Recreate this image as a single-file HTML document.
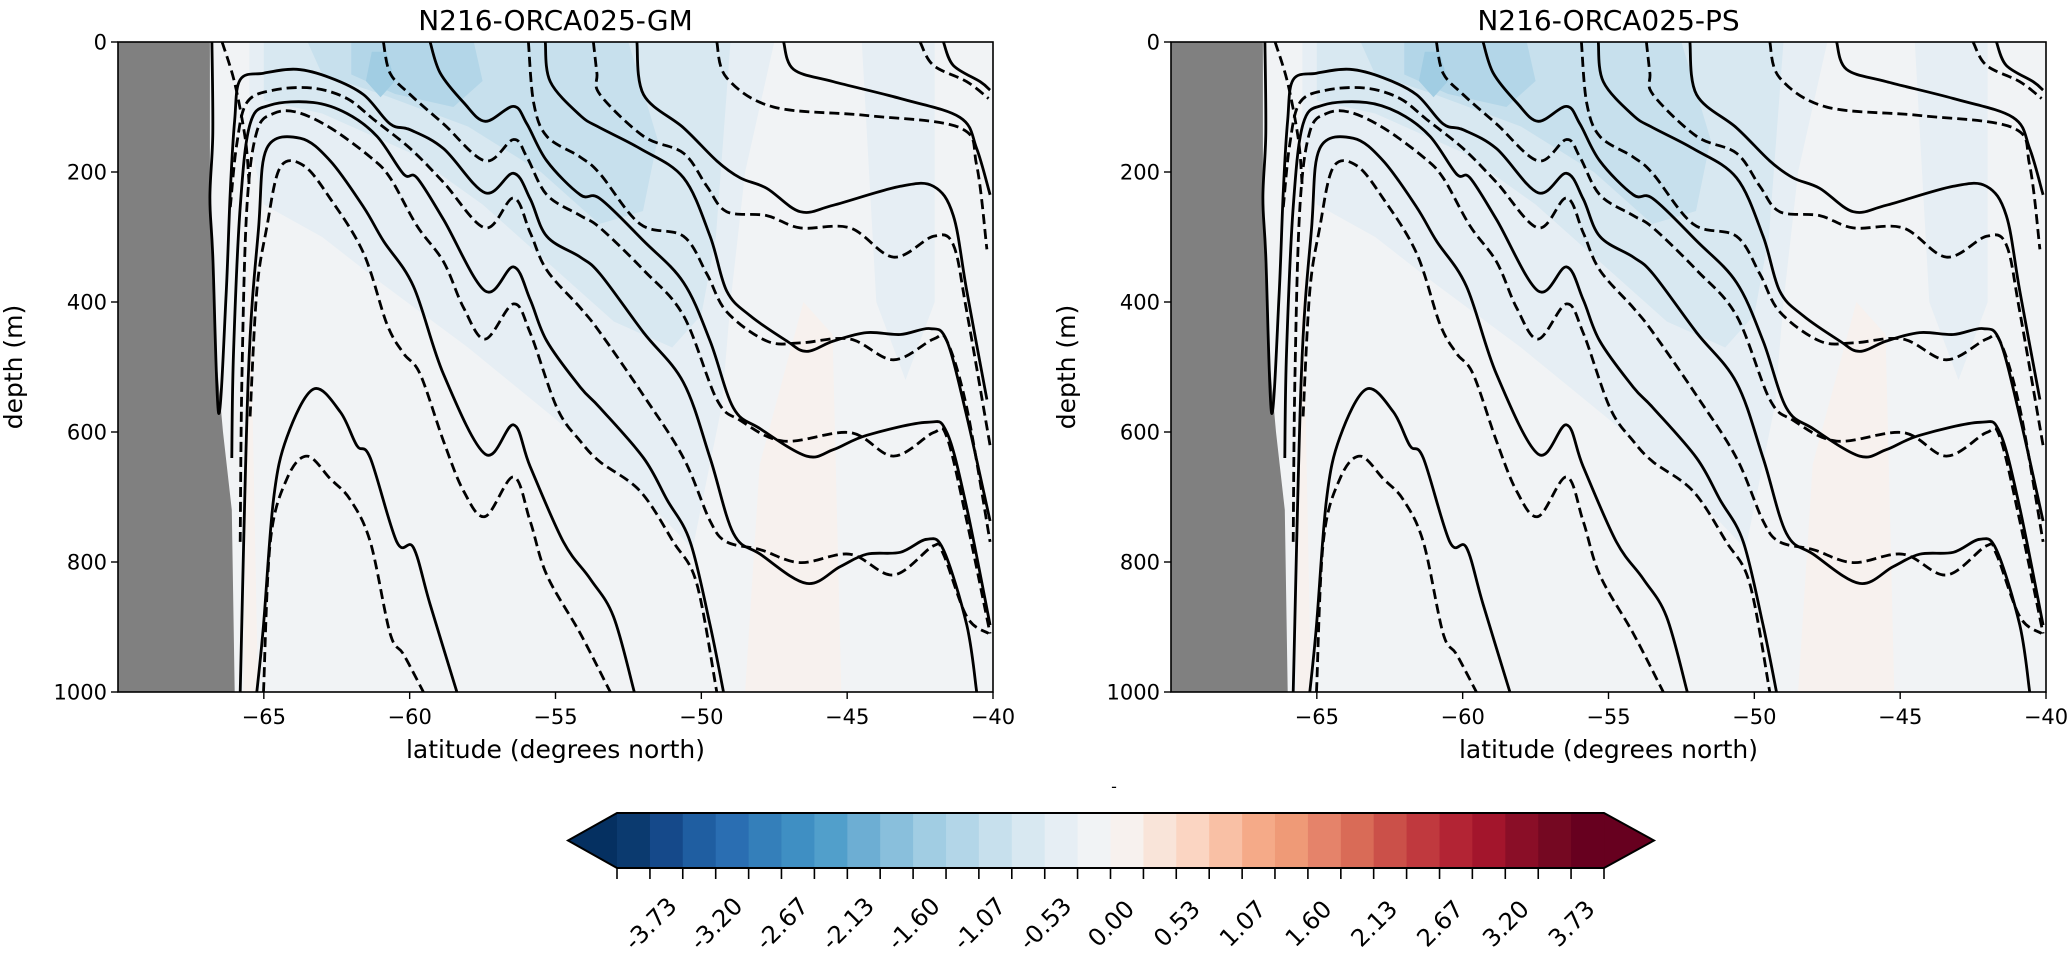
<!DOCTYPE html>
<html><head><meta charset="utf-8"><style>
html,body{margin:0;padding:0;background:#fff;}
svg{display:block;font-family:"DejaVu Sans","Liberation Sans",sans-serif;}
</style></head><body>
<svg id="fig" width="2067" height="957" viewBox="0 0 2067 957" xmlns="http://www.w3.org/2000/svg"></svg>
<script>
// ---------- data ----------
const panelTitles = ["N216-ORCA025-GM", "N216-ORCA025-PS"];
const xTicks = [-65, -60, -55, -50, -45, -40];
const yTicks = [0, 200, 400, 600, 800, 1000];
const cbarBounds = [-4.0,-3.733,-3.467,-3.2,-2.933,-2.667,-2.4,-2.133,-1.867,-1.6,-1.333,-1.067,-0.8,-0.533,-0.267,0,0.267,0.533,0.8,1.067,1.333,1.6,1.867,2.133,2.4,2.667,2.933,3.2,3.467,3.733,4.0];
const cbarLabels = ["-3.73","-3.20","-2.67","-2.13","-1.60","-1.07","-0.53","0.00","0.53","1.07","1.60","2.13","2.67","3.20","3.73"];
const cbarColors = ["#0b3a6f","#15498a","#1f5ea1","#2a6eb2","#347fba","#3f8fc3","#519fcb","#6daed3","#89bfdc","#a1cde3","#b3d6e8","#c7e0ed","#d8e8f1","#e6eef4","#f1f3f5","#f7f1ee","#f9e4d9","#fbd5c2","#f9c0a5","#f5aa88","#ef9a77","#e5836a","#d96b57","#cb5049","#c0393e","#b32434","#a3152c","#8a0e27","#750822","#67001f"];
const landPoly = [[-70,0],[-66.85,0],[-66.85,250],[-66.7,450],[-66.4,600],[-66.1,720],[-66.0,1000],[-70,1000]];
const shadeValues = [-0.3, -0.55, -0.85, -1.15, -1.45, -0.4, 0.1, 0.1];
const shadePolys = [
 [[-65.5,0],[-47.5,0],[-48.5,200],[-49,400],[-49.3,560],[-50.3,780],[-52,700],[-55,580],[-58,470],[-61,370],[-63,300],[-65,250],[-65.5,150]],
 [[-65,0],[-49,0],[-49.5,300],[-50,420],[-51,470],[-53,430],[-55,350],[-57.5,250],[-60,170],[-63,110],[-65,90]],
 [[-63.5,0],[-52.5,0],[-51.5,150],[-52,260],[-53.5,280],[-55.5,200],[-58,130],[-61,80],[-63,50]],
 [[-62,0],[-57.8,0],[-57.5,60],[-58.5,100],[-60.5,80],[-62,50]],
 [[-61.3,15],[-60.8,15],[-60.5,60],[-61,85],[-61.5,60]],
 [[-44.5,0],[-42,0],[-42,400],[-43,520],[-44,400]],
 [[-48.5,1000],[-48,650],[-46.5,400],[-45.5,450],[-45.2,1000]],
 [[-65.7,1000],[-65.5,300],[-65.2,1000]]
];
const solidLines = [
 [[-59.30,0],[-58.95,48],[-58.15,93],[-57.41,122],[-56.44,99],[-55.98,126],[-55.30,183],[-54.15,235],[-53.47,241],[-51.98,306],[-50.61,370],[-49.70,460],[-48.90,563],[-47.98,595],[-46.39,637],[-45.47,627],[-44.33,605],[-42.27,585],[-41.58,601],[-40.90,717],[-40.10,897]],
 [[-66.78,0],[-66.75,140],[-66.85,240],[-66.75,330],[-66.55,571],[-66.3,395],[-66.15,230],[-66.0,120],[-65.81,58],[-65.01,48],[-63.87,42],[-62.72,55],[-61.58,81],[-60.67,126],[-59.98,135],[-58.84,164],[-57.41,232],[-56.44,202],[-55.87,241],[-55.30,299],[-54.15,331],[-53.47,357],[-51.98,447],[-50.61,524],[-49.70,640],[-48.90,756],[-47.98,788],[-46.39,833],[-45.24,807],[-44.33,788],[-43.18,785],[-42.27,765],[-41.70,781],[-40.90,897],[-40.56,1000]],
 [[-66.10,640],[-66.04,479],[-65.81,254],[-65.47,126],[-64.78,97],[-63.30,93],[-62.15,110],[-61.12,145],[-60.21,203],[-59.75,209],[-58.84,273],[-57.41,383],[-56.44,346],[-55.87,396],[-55.30,460],[-54.15,531],[-53.47,563],[-51.98,640],[-51.18,704],[-50.38,769],[-49.70,897],[-49.24,1000]],
 [[-65.81,1000],[-65.53,511],[-65.18,286],[-64.90,164],[-63.75,148],[-62.72,183],[-61.58,254],[-60.90,306],[-59.87,376],[-58.84,511],[-57.41,634],[-56.44,589],[-55.87,653],[-54.73,769],[-53.81,826],[-53.01,884],[-52.30,1000]],
 [[-65.24,1000],[-65.01,897],[-64.67,704],[-64.21,608],[-63.30,534],[-62.38,569],[-61.81,621],[-61.35,640],[-60.44,769],[-59.87,778],[-59.30,865],[-58.38,1000]],
 [[-55.35,0],[-55.18,61],[-54.15,113],[-53.47,132],[-52.10,164],[-50.61,209],[-49.70,299],[-49.13,383],[-48.33,421],[-47.07,460],[-46.39,476],[-45.47,460],[-44.33,447],[-43.18,450],[-42.16,441],[-41.58,460],[-40.90,576],[-40.10,737]],
 [[-52.21,0],[-51.98,81],[-50.61,132],[-49.47,183],[-48.67,209],[-47.76,225],[-46.61,261],[-45.47,251],[-43.18,222],[-42.04,222],[-41.36,267],[-40.90,383],[-40.21,550]],
 [[-47.18,0],[-46.84,42],[-45.47,61],[-43.18,87],[-41.13,116],[-40.56,164],[-40.10,235]],
 [[-41.70,0],[-41.36,36],[-40.44,61],[-40.10,74]]
];
const dashedLines = [
 [[-60.90,0],[-60.67,48],[-59.98,81],[-58.84,126],[-57.41,183],[-56.44,150],[-55.98,177],[-55.30,235],[-54.15,267],[-53.47,286],[-51.98,351],[-50.61,421],[-49.47,550],[-48.67,582],[-47.18,614],[-44.90,601],[-43.41,637],[-42.04,601],[-41.58,608],[-40.90,737],[-40.10,910]],
 [[-66.15,254],[-65.93,158],[-65.58,93],[-64.67,74],[-63.30,71],[-62.15,87],[-61.24,119],[-59.98,164],[-58.84,216],[-57.41,286],[-56.44,240],[-55.87,293],[-55.30,351],[-54.15,409],[-53.47,447],[-51.98,544],[-50.61,640],[-49.70,737],[-49.13,769],[-47.98,781],[-46.61,801],[-44.90,788],[-43.41,820],[-42.04,775],[-41.70,788],[-40.90,884],[-40.15,910]],
 [[-65.81,769],[-65.75,511],[-65.58,254],[-65.24,138],[-64.67,110],[-63.87,108],[-62.72,132],[-61.35,177],[-60.67,209],[-59.75,283],[-58.84,338],[-58.15,409],[-57.41,457],[-56.44,403],[-55.87,447],[-54.95,563],[-54.15,614],[-53.47,646],[-52.10,691],[-50.96,769],[-50.16,833],[-49.47,1000]],
 [[-65.47,576],[-65.24,383],[-64.90,286],[-64.44,193],[-63.64,190],[-62.72,241],[-61.58,325],[-60.78,434],[-60.21,479],[-59.64,511],[-58.84,614],[-58.15,691],[-57.41,730],[-56.44,669],[-55.87,737],[-55.30,820],[-54.15,910],[-53.12,1000]],
 [[-65.01,1000],[-64.78,769],[-64.21,672],[-63.52,637],[-62.72,672],[-62.04,704],[-61.35,769],[-60.67,910],[-60.21,942],[-59.53,1000]],
 [[-55.93,0],[-55.75,93],[-55.30,145],[-54.15,177],[-53.47,203],[-52.10,280],[-50.61,299],[-49.81,357],[-49.13,415],[-47.76,460],[-46.61,463],[-44.90,457],[-43.41,489],[-42.04,457],[-41.58,460],[-40.90,563],[-40.10,769]],
 [[-53.70,0],[-53.58,48],[-53.47,81],[-51.98,145],[-50.61,171],[-49.81,222],[-49.13,261],[-47.76,267],[-46.61,286],[-44.90,286],[-43.41,331],[-42.04,299],[-41.36,312],[-40.90,415],[-40.10,621]],
 [[-49.47,0],[-49.13,55],[-47.53,100],[-44.33,113],[-41.13,132],[-40.56,190],[-40.21,319]],
 [[-42.5,0],[-42.04,36],[-40.90,61],[-40.15,87]],
 [[-66.43,0],[-66.0,63],[-65.63,151],[-65.5,223]]
];
// ---------- drawing ----------
const NS = "http://www.w3.org/2000/svg";
const svg = document.getElementById("fig");
function mk(tag, attrs, parent){const e=document.createElementNS(NS,tag);for(const k in attrs)e.setAttribute(k,attrs[k]);(parent||svg).appendChild(e);return e;}
const panelLefts = [118, 1171];
const PW = 875, PT = 42, PH = 650;
const xMin=-70, xMax=-40, yMin=0, yMax=1000;
function colorFor(v){for(let i=0;i<cbarColors.length;i++){if(v<cbarBounds[i+1])return cbarColors[i];}return cbarColors[cbarColors.length-1];}
function smoothPath(pts){
  if(pts.length<3) return "M"+pts.map(p=>p.join(",")).join("L");
  let d="M"+pts[0][0].toFixed(1)+","+pts[0][1].toFixed(1);
  for(let i=0;i<pts.length-1;i++){
    const p0=pts[Math.max(0,i-1)],p1=pts[i],p2=pts[i+1],p3=pts[Math.min(pts.length-1,i+2)];
    const c1=[p1[0]+(p2[0]-p0[0])/6,p1[1]+(p2[1]-p0[1])/6];
    const c2=[p2[0]-(p3[0]-p1[0])/6,p2[1]-(p3[1]-p1[1])/6];
    d+="C"+c1[0].toFixed(1)+","+c1[1].toFixed(1)+" "+c2[0].toFixed(1)+","+c2[1].toFixed(1)+" "+p2[0].toFixed(1)+","+p2[1].toFixed(1);
  }
  return d;
}
panelTitles.forEach((title,pi)=>{
  const L = panelLefts[pi];
  const xs = v => L + (v-xMin)/(xMax-xMin)*PW;
  const ys = v => PT + (v-yMin)/(yMax-yMin)*PH;
  const g = mk("g",{});
  
  
  const clipId="clip"+pi;
  const cp=mk("clipPath",{id:clipId},g); mk("rect",{x:L,y:PT,width:PW,height:PH},cp);
  const bg=mk("rect",{x:L,y:PT,width:PW,height:PH,fill:colorFor(-0.1)},g);
  
  
  const inner=mk("g",{"clip-path":"url(#"+clipId+")"},g);
  shadePolys.forEach((poly,si)=>{
    const p=mk("polygon",{points:poly.map(q=>xs(q[0]).toFixed(1)+","+ys(q[1]).toFixed(1)).join(" "),fill:colorFor(shadeValues[si])},inner);
    
    
  });
  const land=mk("polygon",{points:landPoly.map(q=>xs(q[0]).toFixed(1)+","+ys(q[1]).toFixed(1)).join(" "),fill:"#808080"},inner);
  
  
  solidLines.forEach(line=>{
    const p=mk("path",{d:smoothPath(line.map(q=>[xs(q[0]),ys(q[1])])),fill:"none",stroke:"#000","stroke-width":2.8},inner);
    
    
  });
  dashedLines.forEach(line=>{
    const p=mk("path",{d:smoothPath(line.map(q=>[xs(q[0]),ys(q[1])])),fill:"none",stroke:"#000","stroke-width":2.8,"stroke-dasharray":"10,5"},inner);
    
    
  });
  const frame=mk("rect",{x:L,y:PT,width:PW,height:PH,fill:"none",stroke:"#000","stroke-width":1.6},g);
  
  
  xTicks.forEach(t=>{
    const x=xs(t);
    mk("line",{x1:x,x2:x,y1:PT+PH,y2:PT+PH+7,stroke:"#000","stroke-width":1.4},g);
    const tx=mk("text",{x:x,y:PT+PH+32,"font-size":21,"text-anchor":"middle",fill:"#000"},g);
    tx.textContent=(t<0?"\u2212"+Math.abs(t):String(t));
    
    
  });
  yTicks.forEach(t=>{
    const y=ys(t);
    mk("line",{x1:L-7,x2:L,y1:y,y2:y,stroke:"#000","stroke-width":1.4},g);
    const tx=mk("text",{x:L-11,y:y+7.5,"font-size":21,"text-anchor":"end",fill:"#000"},g);
    tx.textContent=String(t);
    
    
  });
  const tt=mk("text",{x:L+PW/2,y:PT-12,"font-size":28,"text-anchor":"middle",fill:"#000"},g);
  tt.textContent=title;
  
  
  const xl=mk("text",{x:L+PW/2,y:PT+PH+66,"font-size":25,"text-anchor":"middle",fill:"#000"},g);
  xl.textContent="latitude (degrees north)";
  
  
  const yx=L-96, yy=PT+PH/2;
  const yl=mk("text",{x:yx,y:yy,"font-size":25,"text-anchor":"middle",fill:"#000",transform:"rotate(-90 "+yx+" "+yy+")"},g);
  yl.textContent="depth (m)";
  
  
});
// colorbar
const CB_L=617, CB_R=1604, CB_T=813, CB_B=868, TIP_L=568, TIP_R=1654;
const cbx = v => CB_L + (v-cbarBounds[0])/(cbarBounds[cbarBounds.length-1]-cbarBounds[0])*(CB_R-CB_L);
const cg=mk("g",{});


const mid=(CB_T+CB_B)/2;
const tl=mk("polygon",{points:`${CB_L},${CB_T} ${TIP_L},${mid} ${CB_L},${CB_B}`,fill:"#053061"},cg);


const tr=mk("polygon",{points:`${CB_R},${CB_T} ${TIP_R},${mid} ${CB_R},${CB_B}`,fill:"#67001f"},cg);


cbarColors.forEach((c,i)=>{
  const x0=cbx(cbarBounds[i]), x1=cbx(cbarBounds[i+1]);
  const r=mk("rect",{x:x0,y:CB_T,width:x1-x0+0.6,height:CB_B-CB_T,fill:c},cg);
  
  
});
mk("polygon",{points:`${CB_L},${CB_T} ${CB_R},${CB_T} ${TIP_R},${mid} ${CB_R},${CB_B} ${CB_L},${CB_B} ${TIP_L},${mid}`,fill:"none",stroke:"#000","stroke-width":2},cg);
cbarBounds.forEach(b=>{
  const x=cbx(b);
  mk("line",{x1:x,x2:x,y1:CB_B,y2:CB_B+11,stroke:"#000","stroke-width":1.6},cg);
});
cbarLabels.forEach((lab,i)=>{
  const x=cbx(cbarBounds[2*i+1]), y=932;
  const t=mk("text",{x:x,y:y,"font-size":24,"text-anchor":"middle",fill:"#000",transform:`rotate(-45 ${x} ${y-9})`},cg);
  t.textContent=lab;
  
  
});
const dash=mk("text",{x:1114,y:792,"font-size":16,"text-anchor":"middle",fill:"#000"},cg);
dash.textContent="-";


</script>
</body></html>
